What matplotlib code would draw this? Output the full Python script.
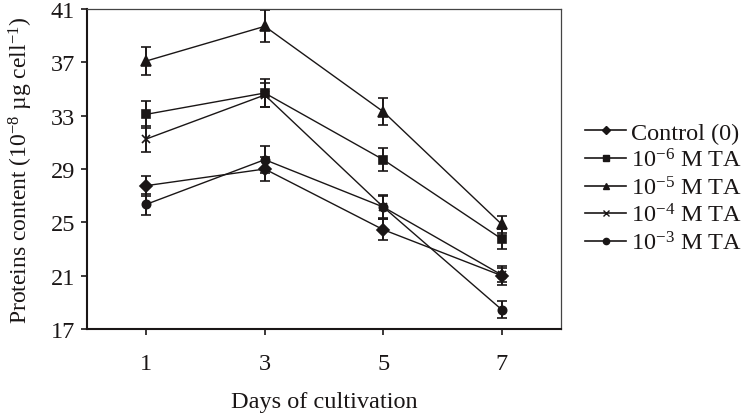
import matplotlib
matplotlib.use("Agg")
import matplotlib.pyplot as plt
from matplotlib.lines import Line2D

# Protein content over cultivation days
days = [1, 3, 5, 7]

control = [27.75, 29.0, 24.45, 21.0]
control_err = [0.75, 0.9, 0.8, 0.7]

ta_1e6 = [33.1, 34.7, 29.7, 23.75]
ta_1e6_err = [1.0, 1.05, 0.85, 0.75]

ta_1e5 = [37.1, 39.7, 33.3, 24.85]
ta_1e5_err = [1.05, 1.2, 1.0, 0.65]

ta_1e4 = [31.25, 34.55, 26.15, 21.05]
ta_1e4_err = [0.95, 0.9, 0.8, 0.5]

ta_1e3 = [26.35, 29.7, 26.15, 18.45]
ta_1e3_err = [0.8, 1.0, 0.9, 0.65]

labels = ["Control (0)", "10$^{-6}$ M TA", "10$^{-5}$ M TA",
          "10$^{-4}$ M TA", "10$^{-3}$ M TA"]
y_ticks = [17, 21, 25, 29, 33, 37, 41]

plt.rcParams["font.family"] = ["Liberation Serif", "DejaVu Serif"]
plt.rcParams["mathtext.fontset"] = "custom"
plt.rcParams["mathtext.rm"] = "Liberation Serif"
plt.rcParams["mathtext.it"] = "Liberation Serif:italic"
plt.rcParams["mathtext.bf"] = "Liberation Serif:bold"

fs = 17.5
ink = "#1a1616"

fig = plt.figure(figsize=(7.44, 4.14), dpi=100)
ax = fig.add_axes([87 / 744, 1 - 330 / 414, (561 - 87) / 744, 320 / 414])

series = [
    (control, control_err, "D", 6.0),
    (ta_1e6, ta_1e6_err, "s", 5.8),
    (ta_1e5, ta_1e5_err, "^", 6.5),
    (ta_1e4, ta_1e4_err, "x", 5.5),
    (ta_1e3, ta_1e3_err, "o", 6.0),
]

for (vals, errs, mk, ms), lab in zip(series, labels):
    ax.errorbar(days, vals, yerr=errs, color=ink, marker=mk, markersize=ms,
                markeredgewidth=1.2, linewidth=1.0, elinewidth=1.4,
                capsize=3.8, capthick=1.6, label=lab)

ax.set_xlim(0, 8)
ax.set_ylim(17, 41)
ax.set_yticks(y_ticks)
ax.set_xticks([1, 3, 5, 7])
ax.tick_params(axis="both", direction="out", length=4.5, width=1.2,
               colors=ink, labelsize=fs)
ax.tick_params(axis="x", pad=13)
ax.tick_params(axis="y", pad=4)

for side in ["left", "bottom"]:
    ax.spines[side].set_linewidth(1.5)
    ax.spines[side].set_color(ink)
for side in ["top", "right"]:
    ax.spines[side].set_linewidth(0.9)
    ax.spines[side].set_color("#444444")

ax.set_xlabel("Days of cultivation", fontsize=fs, color=ink, labelpad=12)
ax.set_ylabel("Proteins content (10$^{-8}$ \u00b5g cell$^{-1}$)", fontsize=17,
              color=ink, labelpad=11)

# legend handles without error bars
leg_handles = [Line2D([], [], color=ink, marker=mk, markersize=ms * 0.75, linewidth=1.2)
               for (_, _, mk, ms) in series]
fig.legend(leg_handles, labels, loc="center left",
           bbox_to_anchor=(585 / 744, 1 - 189 / 414), frameon=False,
           fontsize=fs, handlelength=1.7, handletextpad=0.2,
           labelspacing=0.18, borderpad=0, borderaxespad=0, labelcolor=ink)

fig.savefig("out.png", dpi=100)
